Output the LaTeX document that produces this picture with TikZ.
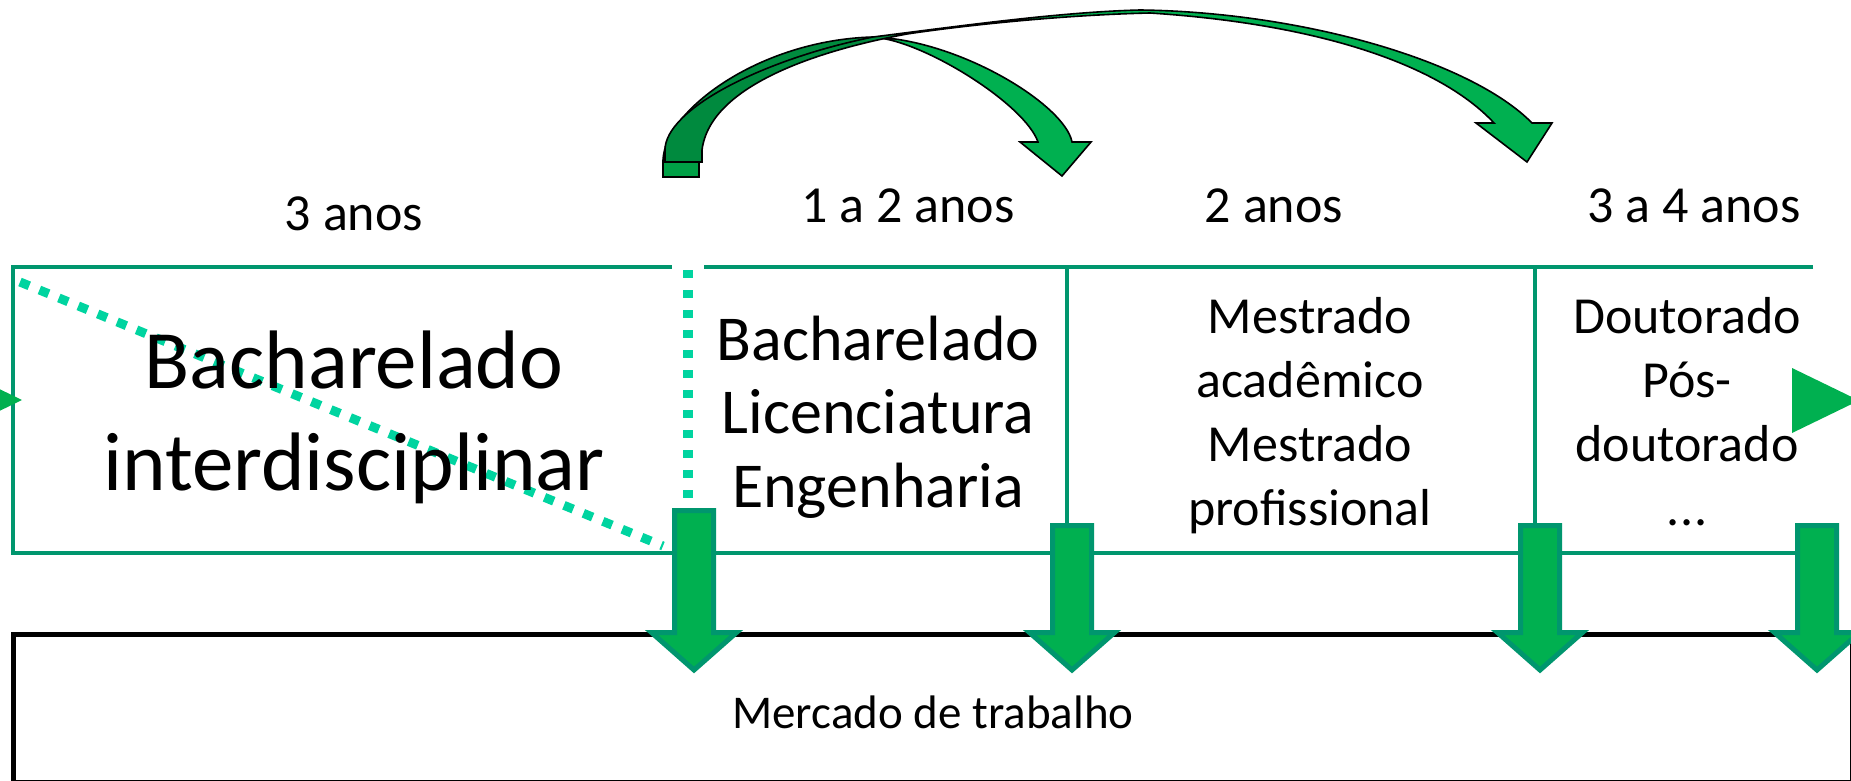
\documentclass[tikz,border=0pt]{standalone}
\usepackage{fontspec}
\setmainfont{Carlito}
\definecolor{lgreen}{HTML}{00966E}
\definecolor{fgreen}{HTML}{00B050}
\definecolor{dgreen}{HTML}{008A3E}
\definecolor{bgreen}{HTML}{00A046}
\definecolor{mint}{HTML}{00D4A0}
\tikzset{
  frameline/.style={draw=lgreen, line width=4.5pt},
  dnarrowsty/.style={fill=fgreen, draw=lgreen, line width=5pt, miter limit=10},
  dotline/.style={draw=mint, line width=9pt, dash pattern=on 10pt off 11pt},
  vdotline/.style={draw=mint, line width=10pt, dash pattern=on 8pt off 12pt},
  curveline/.style={draw=black, line width=1.6pt},
  tri/.style={fill=fgreen},
  lbl/.style={anchor=base, inner sep=0pt, font=\fontsize{52}{62}\selectfont},
  biglbl/.style={anchor=base, inner sep=0pt, font=\fontsize{83}{100}\selectfont},
  midlbl/.style={anchor=base, inner sep=0pt, font=\fontsize{64}{74}\selectfont},
  botlbl/.style={anchor=base, inner sep=0pt, font=\fontsize{47}{56}\selectfont},
}
\newcommand\dnarrow[2]{%
  \draw[dnarrowsty] (#1-19.5,#2+2.5) -- (#1+19.5,#2+2.5) -- (#1+19.5,632.5)
    -- (#1+42.5,632.5) -- (#1,670) -- (#1-42.5,632.5) -- (#1-19.5,632.5) -- cycle;}
\begin{document}
\begin{tikzpicture}[x=1pt,y=-1pt]
\useasboundingbox (0,0) rectangle (1851,781);
\clip (0,0) rectangle (1851,781);
\fill[white] (0,0) rectangle (1851,781);

% frame lines
\draw[frameline] (1813,267) -- (13,267) -- (13,553) -- (1810,553);
\draw[frameline] (1067,267) -- (1067,526);
\draw[frameline] (1535,267) -- (1535,526);

% dotted lines
\draw[white, line width=6pt] (672,267) -- (704,267);
\draw[dotline] (20,282) -- (663,546);
\draw[vdotline] (688,270) -- (688,506);

% triangles
\fill[tri] (-45,367.5) -- (22,400) -- (-45,432.5) -- cycle;
\fill[tri] (1792,368) -- (1859,400.5) -- (1792,433) -- cycle;

% labour market box
\draw[black, line width=5pt] (13.5,634.5) rectangle (1852.8,782.8);

% down arrows
\dnarrow{694}{508}
\dnarrow{1072}{523}
\dnarrow{1540}{523}
\dnarrow{1817}{523}

% curved arrow A (short)
\def\pathA{(663,177) -- (663,160) .. controls (665,110) and (760,40) .. (873,37)
  .. controls (960,40) and (1065,105) .. (1072,142)
  -- (1091,142) -- (1062,176) -- (1020,142) -- (1038,142)
  .. controls (1025,105) and (930,45) .. (880,38)
  .. controls (780,50) and (699,100) .. (699,160) -- (699,177) -- cycle}
\fill[fgreen] \pathA;
\fill[dgreen] (663,177) -- (663,160) .. controls (665,110) and (760,40) .. (873,37)
  -- (880,38) .. controls (780,50) and (699,100) .. (699,160) -- (699,177) -- cycle;
\fill[bgreen] (663,162) rectangle (699,177);
\draw[curveline] \pathA;

% curved arrow B (long)
\def\pathB{(665,162) -- (665,150) .. controls (665,110) and (760,60) .. (873,37)
  .. controls (960,26) and (1060,12) .. (1140,10)
  .. controls (1300,12) and (1470,60) .. (1532,123)
  -- (1552,123) -- (1527,162) -- (1476,123) -- (1494,123)
  .. controls (1440,65) and (1320,24) .. (1150,13)
  .. controls (1060,15) and (960,26) .. (907,34)
  .. controls (820,50) and (710,85) .. (702,150) -- (702,162) -- cycle}
\fill[fgreen] \pathB;
\fill[dgreen] (665,162) -- (665,150) .. controls (665,110) and (760,60) .. (873,37)
  -- (907,34) .. controls (820,50) and (710,85) .. (702,150) -- (702,162) -- cycle;
\draw[curveline] \pathB;

% duration labels
\node[lbl] (d1) at (354,230) {3 anos};
\node[lbl] (d2) at (908,222) {1 a 2 anos};
\node[lbl] (d3) at (1274,222) {2 anos};
\node[lbl] (d4) at (1694,222) {3 a 4 anos};

% column texts
\node[biglbl] (bi1) at (354,388) {Bacharelado};
\node[biglbl] (bi2) at (354,490) {interdisciplinar};

\node[midlbl] (b1) at (878,360) {Bacharelado};
\node[midlbl] (b2) at (878,433.5) {Licenciatura};
\node[midlbl] (b3) at (878,507) {Engenharia};

\node[lbl] (m1) at (1310,333) {Mestrado};
\node[lbl] (m2) at (1310,397) {acadêmico};
\node[lbl] (m3) at (1310,461) {Mestrado};
\node[lbl] (m4) at (1310,525) {profissional};

\node[lbl] (p1) at (1687,333) {Doutorado};
\node[lbl] (p2) at (1687,397) {Pós-};
\node[lbl] (p3) at (1687,461) {doutorado};
\node[lbl] (p4) at (1687,525) {.\kern1pt.\kern1pt.};

\node[botlbl] (mt) at (933,728) {Mercado de trabalho};
\end{tikzpicture}
\end{document}
